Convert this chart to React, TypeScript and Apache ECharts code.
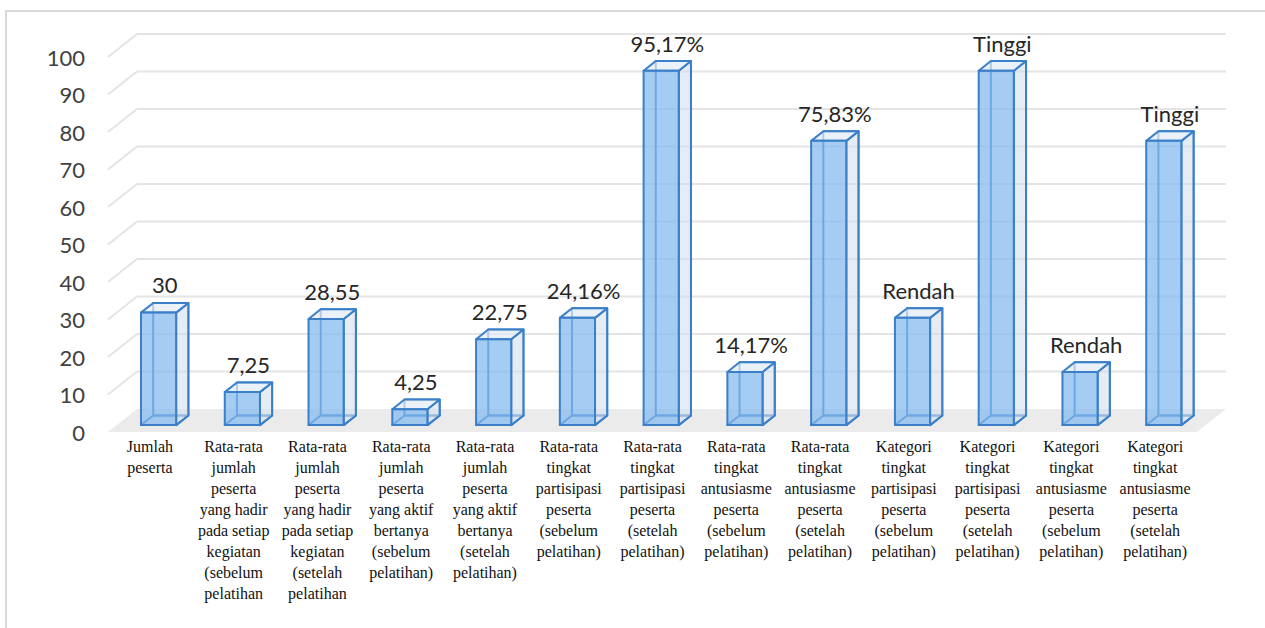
import React, { useEffect, useRef } from "react";
import * as echarts from "echarts";

const categories: string[] = [
  "Jumlah\npeserta",
  "Rata-rata\njumlah\npeserta\nyang hadir\npada setiap\nkegiatan\n(sebelum\npelatihan",
  "Rata-rata\njumlah\npeserta\nyang hadir\npada setiap\nkegiatan\n(setelah\npelatihan",
  "Rata-rata\njumlah\npeserta\nyang aktif\nbertanya\n(sebelum\npelatihan)",
  "Rata-rata\njumlah\npeserta\nyang aktif\nbertanya\n(setelah\npelatihan)",
  "Rata-rata\ntingkat\npartisipasi\npeserta\n(sebelum\npelatihan)",
  "Rata-rata\ntingkat\npartisipasi\npeserta\n(setelah\npelatihan)",
  "Rata-rata\ntingkat\nantusiasme\npeserta\n(sebelum\npelatihan)",
  "Rata-rata\ntingkat\nantusiasme\npeserta\n(setelah\npelatihan)",
  "Kategori\ntingkat\npartisipasi\npeserta\n(sebelum\npelatihan)",
  "Kategori\ntingkat\npartisipasi\npeserta\n(setelah\npelatihan)",
  "Kategori\ntingkat\nantusiasme\npeserta\n(sebelum\npelatihan)",
  "Kategori\ntingkat\nantusiasme\npeserta\n(setelah\npelatihan)",
];

const values: number[] = [30, 8.8, 28.3, 4.25, 22.9, 28.6, 94.5, 14.17, 75.8, 28.6, 94.5, 14.17, 75.8];

const valueLabels: string[] = [
  "30", "7,25", "28,55", "4,25", "22,75", "24,16%", "95,17%", "14,17%", "75,83%",
  "Rendah", "Tinggi", "Rendah", "Tinggi",
];

const yTicks: number[] = [10, 20, 30, 40, 50, 60, 70, 80, 90, 100];

const DX = 29;
const DY = 23;
const F1 = 0.3;
const F2 = 0.72;
const EDGE = "#3b7fc8";

export default function App() {
  const ref = useRef<HTMLDivElement>(null);
  useEffect(() => {
    if (!ref.current) return;
    const chart = echarts.init(ref.current, null, { renderer: "svg" });
    const option: any = {
      animation: false,
      backgroundColor: "#ffffff",
      grid: { left: 108, right: 68, top: 57, bottom: 196, containLabel: false },
      graphic: [
        {
          type: "rect",
          silent: true,
          z: -10,
          shape: { x: 6, y: 11, width: 1300, height: 700 },
          style: { fill: "none", stroke: "#d9d9d9", lineWidth: 2 },
        },
      ],
      xAxis: {
        type: "category",
        data: categories,
        axisLine: { show: false },
        axisTick: { show: false },
        splitLine: { show: false },
        axisLabel: {
          interval: 0,
          margin: 4,
          fontFamily: "'Liberation Serif', 'Times New Roman', serif",
          fontSize: 16,
          lineHeight: 21,
          color: "#111111",
          align: "center",
        },
      },
      yAxis: {
        type: "value",
        min: 0,
        max: 100,
        interval: 10,
        axisLine: { show: false },
        axisTick: { show: false },
        splitLine: { show: false },
        axisLabel: {
          margin: 23,
          fontFamily: "Lato",
          fontSize: 22,
          color: "#404040",
        },
      },
      series: [
        {
          type: "custom",
          silent: true,
          z: 1,
          data: [[0, 0]],
          renderItem: (params: any, api: any) => {
            const cs = params.coordSys;
            const y0 = api.coord([0, 0])[1];
            const x0 = cs.x;
            const x1 = cs.x + cs.width;
            return {
              type: "polygon",
              shape: {
                points: [
                  [x0, y0],
                  [x0 + DX, y0 - DY],
                  [x1 + DX, y0 - DY],
                  [x1, y0],
                ],
              },
              style: { fill: "#ebebeb", stroke: "none" },
            };
          },
        },
        {
          type: "custom",
          silent: true,
          z: 2,
          data: yTicks.map((v) => [0, v]),
          renderItem: (params: any, api: any) => {
            const cs = params.coordSys;
            const y = api.coord([0, api.value(1)])[1];
            const x0 = cs.x;
            const x1 = cs.x + cs.width;
            const st = { stroke: "#e4e4e4", lineWidth: 2, fill: "none" };
            return {
              type: "group",
              children: [
                { type: "line", shape: { x1: x0, y1: y, x2: x0 + DX, y2: y - DY }, style: st },
                { type: "line", shape: { x1: x0 + DX, y1: y - DY, x2: x1 + DX, y2: y - DY }, style: st },
              ],
            };
          },
        },
        {
          type: "custom",
          z: 5,
          data: values.map((v, i) => [i, v]),
          renderItem: (params: any, api: any) => {
            const i = api.value(0);
            const v = api.value(1);
            const top = api.coord([i, v]);
            const base = api.coord([i, 0]);
            const w = api.size([1, 0])[0] * 0.42;
            const L = top[0] - w / 2 + F1 * DX;
            const R = L + w;
            const T = top[1] - F1 * DY;
            const B = base[1] - F1 * DY;
            const d = (F2 - F1) * DX;
            const e = (F2 - F1) * DY;
            const edge = { stroke: EDGE, lineWidth: 2, lineJoin: "round" };
            return {
              type: "group",
              children: [
                {
                  type: "polygon",
                  shape: { points: [[L + d, T - e], [R + d, T - e], [R + d, B - e], [L + d, B - e]] },
                  style: { fill: "none", ...edge },
                },
                {
                  type: "polygon",
                  shape: { points: [[L, B], [R, B], [R + d, B - e], [L + d, B - e]] },
                  style: { fill: "none", ...edge },
                },
                {
                  type: "polygon",
                  shape: { points: [[R, T], [R + d, T - e], [R + d, B - e], [R, B]] },
                  style: { fill: "rgba(214,224,236,0.6)", ...edge },
                },
                {
                  type: "polygon",
                  shape: { points: [[L, T], [R, T], [R + d, T - e], [L + d, T - e]] },
                  style: { fill: "rgba(225,235,246,0.7)", ...edge },
                },
                {
                  type: "polygon",
                  shape: { points: [[L, T], [R, T], [R, B], [L, B]] },
                  style: { fill: "rgba(130,184,238,0.72)", ...edge },
                },
                {
                  type: "text",
                  style: {
                    text: valueLabels[i],
                    x: (L + R + d) / 2,
                    y: T - e - 18,
                    align: "center",
                    verticalAlign: "middle",
                    fontFamily: "Lato",
                    fontSize: 22,
                    fill: "#262626",
                  },
                },
              ],
            };
          },
        },
      ],
    };
    chart.setOption(option);
    return () => chart.dispose();
  }, []);
  return (
    <div
      ref={ref}
      style={{ position: "fixed", left: 0, top: 0, width: 1265, height: 628, background: "#fff" }}
    />
  );
}
